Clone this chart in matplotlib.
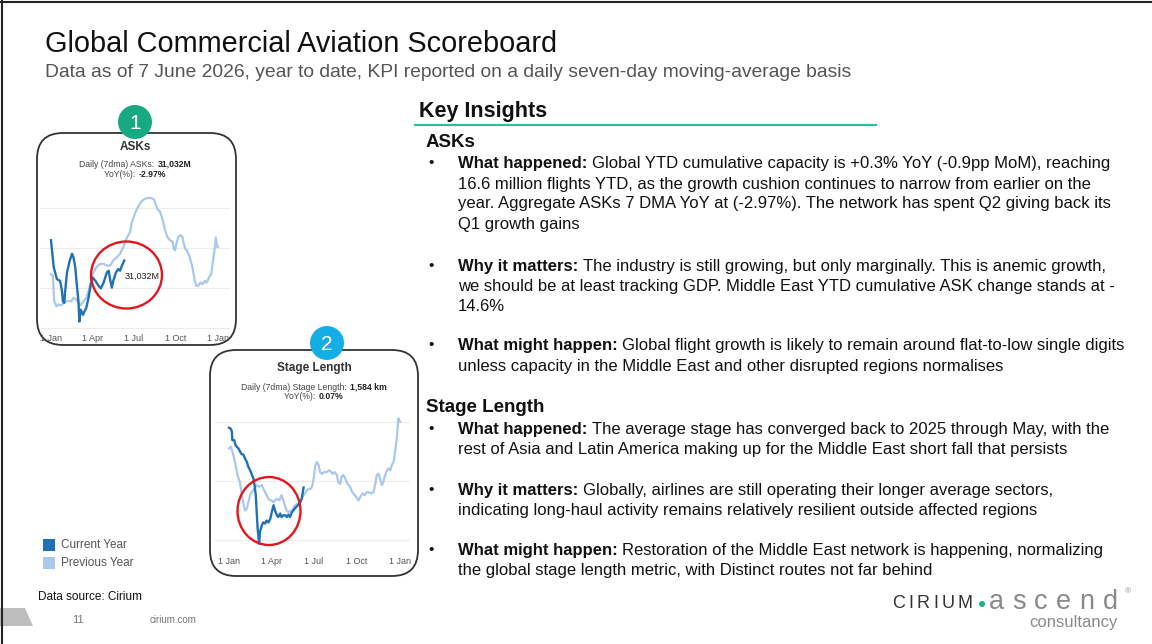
import matplotlib

matplotlib.use("Agg")
import matplotlib.pyplot as plt
from matplotlib.patches import FancyBboxPatch, Circle, Ellipse, Rectangle, Polygon

plt.rcParams["font.family"] = ["Liberation Sans", "DejaVu Sans"]

# ---- data (day of year, value) ----
ask_cur_day = [0, 6, 13, 20, 24, 26, 29, 31, 35, 41, 46, 49, 53, 57, 60, 62, 65, 70, 73, 77,
               82, 87, 91, 97, 104, 109, 115, 122, 126, 129, 133, 136, 142, 147, 151, 155, 160]
ask_cur_val = [32390, 31034, 30440, 30356, 29847, 29339, 29254, 29847, 30780, 31373, 31712,
               31542, 31034, 30017, 29339, 28322, 28915, 28661, 28830, 29000, 29508, 30186,
               30525, 30356, 30102, 29983, 30271, 30780, 30864, 30441, 30017, 30356, 30780,
               30949, 30864, 31119, 31373]
ask_prev_day = [0, 4, 7, 12, 17, 22, 28, 33, 38, 44, 49, 55, 60, 65, 71, 77, 82, 86, 91, 99,
                107, 115, 122, 129, 136, 144, 151, 158, 165, 173, 176, 181, 187, 193, 198, 205,
                213, 220, 225, 229, 233, 238, 244, 249, 254, 260, 266, 268, 271, 274, 278, 283,
                287, 290, 293, 297, 303, 309, 314, 318, 321, 327, 331, 336, 340, 345, 350, 354,
                358, 360, 363, 365]
ask_prev_val = [30695, 30610, 29339, 29085, 29169, 29135, 29254, 29339, 29339, 29339, 29508,
                29424, 29254, 29135, 29339, 29508, 29847, 30186, 30695, 31034, 31203, 31203,
                31119, 31119, 31373, 31542, 31712, 32051, 32475, 32814, 33237, 33576, 33915,
                34170, 34339, 34458, 34509, 34492, 34424, 34170, 33915, 33831, 33407, 32898,
                32559, 32390, 32305, 31966, 31881, 32220, 32559, 32644, 32559, 32220, 31966,
                31881, 31542, 31034, 30356, 30102, 30102, 30271, 30186, 30356, 30271, 30525,
                30695, 31373, 32051, 32525, 32051, 32051]

sl_cur_day = [0, 4, 6, 7, 11, 14, 20, 26, 31, 34, 38, 41, 45, 48, 52, 54, 57, 59, 61, 64, 66,
              70, 73, 77, 80, 84, 88, 91, 95, 98, 102, 105, 109, 112, 116, 120, 123, 127, 130,
              134, 137, 141, 147, 152, 155, 159]
sl_cur_val = [1690, 1688, 1683, 1669, 1669, 1660, 1655, 1646, 1644, 1638, 1632, 1624, 1618,
              1612, 1604, 1595, 1576, 1547, 1519, 1494, 1514, 1525, 1530, 1528, 1533, 1530,
              1536, 1547, 1559, 1550, 1542, 1539, 1545, 1539, 1542, 1542, 1539, 1543, 1539,
              1547, 1550, 1554, 1559, 1564, 1570, 1589]
sl_prev_day = [0, 4, 9, 14, 18, 23, 27, 31, 34, 38, 41, 45, 48, 54, 59, 64, 70, 73, 77, 80, 84,
               88, 91, 95, 98, 102, 107, 112, 116, 120, 123, 127, 130, 134, 137, 141, 147, 152,
               157, 162, 166, 171, 175, 178, 181, 184, 187, 191, 194, 198, 203, 208, 213, 218,
               221, 225, 230, 233, 237, 240, 244, 248, 253, 258, 263, 268, 273, 276, 280, 285,
               289, 294, 297, 303, 308, 312, 315, 319, 322, 326, 329, 333, 337, 340, 344, 347,
               351, 354, 358, 360, 361, 365]
sl_prev_val = [1655, 1658, 1644, 1627, 1610, 1598, 1579, 1559, 1550, 1553, 1564, 1576, 1581,
               1587, 1593, 1590, 1593, 1587, 1581, 1576, 1570, 1567, 1567, 1564, 1567, 1570,
               1567, 1576, 1567, 1556, 1550, 1547, 1549, 1550, 1554, 1559, 1562, 1566, 1573,
               1579, 1584, 1587, 1587, 1593, 1607, 1627, 1632, 1627, 1615, 1612, 1615, 1615,
               1618, 1615, 1612, 1615, 1610, 1598, 1595, 1607, 1610, 1604, 1595, 1590, 1581,
               1576, 1571, 1567, 1573, 1579, 1576, 1581, 1581, 1579, 1581, 1595, 1610, 1612,
               1604, 1593, 1598, 1610, 1618, 1621, 1618, 1627, 1632, 1649, 1672, 1694, 1706,
               1700]

month_days = [0, 90, 181, 273, 365]
month_labels = ["1 Jan", "1 Apr", "1 Jul", "1 Oct", "1 Jan"]

ask_label = "31,032M"
ask_now, ask_yoy = "31,032M", "-2.97%"
sl_now, sl_yoy = "1,584 km", "0.07%"

# ---- slide text ----
asks_lines = [
    ("What happened:", "Global YTD cumulative capacity is +0.3% YoY (-0.9pp MoM), reaching"),
    ("", "16.6 million flights YTD, as the growth cushion continues to narrow from earlier on the"),
    ("", "year. Aggregate ASKs 7 DMA YoY at (-2.97%). The network has spent Q2 giving back its"),
    ("", "Q1 growth gains"),
    ("Why it matters:", "The industry is still growing, but only marginally. This is anemic growth,"),
    ("", "we should be at least tracking GDP. Middle East YTD cumulative ASK change stands at -"),
    ("", "14.6%"),
    ("What might happen:", "Global flight growth is likely to remain around flat-to-low single digits"),
    ("", "unless capacity in the Middle East and other disrupted regions normalises"),
]
asks_y = [163, 184, 203, 224, 266, 286, 306, 345, 366]
stage_lines = [
    ("What happened:", "The average stage has converged back to 2025 through May, with the"),
    ("", "rest of Asia and Latin America making up for the Middle East short fall that persists"),
    ("Why it matters:", "Globally, airlines are still operating their longer average sectors,"),
    ("", "indicating long-haul activity remains relatively resilient outside affected regions"),
    ("What might happen:", "Restoration of the Middle East network is happening, normalizing"),
    ("", "the global stage length metric, with Distinct routes not far behind"),
]
stage_y = [429, 449, 490, 510, 550, 571]

DARK = "#2171b5"
LIGHT = "#a9c8ec"
TXT = "#111111"

fig = plt.figure(figsize=(11.52, 6.44), dpi=100)
bg = fig.add_axes([0, 0, 1, 1])
bg.set_xlim(0, 1152)
bg.set_ylim(644, 0)
bg.axis("off")
renderer = fig.canvas.get_renderer()


def mixed(x, y, parts, size, ha="left", gap=0.0, zorder=3):
    # parts: (text, weight, color); laid out one after another on a line
    texts = [bg.text(x, y, s, fontsize=size, fontweight=w, color=c, va="center",
                     ha="left", zorder=zorder) for s, w, c in parts]
    widths = [t.get_window_extent(renderer).width for t in texts]
    total = sum(widths) + gap * (len(texts) - 1)
    x0 = x - total / 2 if ha == "center" else x
    for t, wd in zip(texts, widths):
        t.set_x(x0)
        x0 += wd + gap
    return texts


# slide frame
bg.plot([0, 1152], [1.5, 1.5], color="#222222", lw=1.5)
bg.plot([2, 2], [0, 644], color="#222222", lw=1.5)

# header
bg.text(45, 44, "Global Commercial Aviation Scoreboard", fontsize=20.8, color=TXT, va="center")
bg.text(45, 72, "Data as of 7 June 2026, year to date, KPI reported on a daily seven-day "
        "moving-average basis", fontsize=13.9, color="#555555", va="center")

# key insights
bg.text(419, 111, "Key Insights", fontsize=15.5, fontweight="bold", color=TXT, va="center")
bg.plot([415, 876], [124.5, 124.5], color="#2bbf9e", lw=1.6)
bg.text(426, 142, "ASKs", fontsize=13.5, fontweight="bold", color=TXT, va="center")
bg.text(426, 407, "Stage Length", fontsize=13.5, fontweight="bold", color=TXT, va="center")
body = 12
for lines, ys in [(asks_lines, asks_y), (stage_lines, stage_y)]:
    for (head, rest), y in zip(lines, ys):
        if head:
            bg.text(428, y, "\u2022", fontsize=11, color=TXT, va="center")
            mixed(458, y, [(head, "bold", TXT), (rest, "normal", TXT)], body, gap=4.4)
        else:
            bg.text(458, y, rest, fontsize=body, color=TXT, va="center")

# chart cards
for (x0, y0, x1, y1) in [(37, 133, 236, 345), (210, 350, 418, 576)]:
    bg.add_patch(FancyBboxPatch((x0, y0), x1 - x0, y1 - y0,
                                boxstyle="round,pad=0,rounding_size=26",
                                fc="white", ec="#333333", lw=1.3, zorder=1))
for (cx, cy, col, lab) in [(135, 122, "#17a982", "1"), (327, 343, "#14aee6", "2")]:
    bg.add_patch(Circle((cx, cy), 17, fc=col, ec="none", zorder=2))
    bg.text(cx, cy + 1, lab, fontsize=15, color="white", ha="center", va="center", zorder=3)

bg.text(135, 147, "ASKs", fontsize=8.5, fontweight="bold", color="#333333", ha="center", va="center")
mixed(135, 164, [("Daily (7dma) ASKs: ", "normal", "#444444"), (ask_now, "bold", "#222222")],
      6.2, ha="center", gap=1)
mixed(135, 174.5, [("YoY(%): ", "normal", "#444444"), (ask_yoy, "bold", "#222222")],
      6.2, ha="center", gap=1)
bg.text(314, 368, "Stage Length", fontsize=8.5, fontweight="bold", color="#333333",
        ha="center", va="center")
mixed(314, 387, [("Daily (7dma) Stage Length: ", "normal", "#444444"), (sl_now, "bold", "#222222")],
      6.2, ha="center", gap=1)
mixed(314, 396.5, [("YoY(%): ", "normal", "#444444"), (sl_yoy, "bold", "#222222")],
      6.2, ha="center", gap=1)


def mini(rect, xlim, ylim, yticks, cur, prev, pad):
    ax = fig.add_axes(rect)
    ax.patch.set_visible(False)
    ax.plot(prev[0], prev[1], color=LIGHT, lw=1.6, zorder=2)
    ax.plot(cur[0], cur[1], color=DARK, lw=1.7, zorder=3)
    ax.set_xlim(*xlim)
    ax.set_ylim(*ylim)
    ax.set_yticks(yticks)
    ax.set_xticks(month_days)
    ax.set_xticklabels(month_labels)
    ax.tick_params(length=0, labelleft=False, labelsize=6.5, labelcolor="#555555", pad=pad)
    ax.grid(axis="y", color="#ececec", lw=0.8)
    ax.set_axisbelow(True)
    for s in ax.spines.values():
        s.set_visible(False)
    return ax


ax1 = mini([40 / 1152, (644 - 332) / 644, 190 / 1152, 144 / 644], (-24, 391), (27800, 35000),
           [28000, 30000, 32000, 34000], (ask_cur_day, ask_cur_val),
           (ask_prev_day, ask_prev_val), 1.5)
ax1.annotate(ask_label, xy=(ask_cur_day[-1], ask_cur_val[-1]), xytext=(0.5, -11),
             textcoords="offset points", fontsize=6.5, color="#222222", va="center")
ax2 = mini([215 / 1152, (644 - 546) / 644, 195 / 1152, 136 / 644], (-30, 386), (1490, 1720),
           [1500, 1600, 1700], (sl_cur_day, sl_cur_val), (sl_prev_day, sl_prev_val), 8)

# red highlight rings (drawn over the mini charts)
ring = fig.add_axes([0, 0, 1, 1])
ring.set_xlim(0, 1152)
ring.set_ylim(644, 0)
ring.axis("off")
ring.add_patch(Ellipse((126.5, 275), 71, 67, fill=False, ec="#e3161c", lw=1.7))
ring.add_patch(Ellipse((269, 511), 63, 68, fill=False, ec="#e3161c", lw=1.7))

# legend
bg.add_patch(Rectangle((43, 539), 12, 12, fc=DARK, ec="none"))
bg.add_patch(Rectangle((43, 557), 12, 12, fc=LIGHT, ec="none"))
bg.text(61, 545, "Current Year", fontsize=8.5, color="#555555", va="center")
bg.text(61, 563, "Previous Year", fontsize=8.5, color="#555555", va="center")

# footer
bg.text(38, 597, "Data source: Cirium", fontsize=8.5, color=TXT, va="center")
bg.add_patch(Polygon([(0, 608), (25, 608), (33, 626), (0, 626)], fc="#bdbdbd", ec="none"))
bg.text(72, 620, "11", fontsize=8, color="#777777", va="center")
bg.text(150, 620, "cirium.com", fontsize=7, color="#777777", va="center")

# logo: letter-spaced wordmark
mixed(892, 603, [(ch, "normal", "#333333") for ch in "CIRIUM"], 13, gap=3.4)
bg.add_patch(Circle((982, 604), 3, fc="#1bb18b", ec="none"))
mixed(989, 602, [(ch, "normal", "#8a8a8a") for ch in "ascend"], 19.5, gap=8.2)
bg.text(1125, 592, "\u00ae", fontsize=6, color="#8a8a8a", va="center")
bg.text(1118, 622, "consultancy", fontsize=12, color="#8a8a8a", ha="right", va="center")

fig.savefig("out.png", dpi=100)
